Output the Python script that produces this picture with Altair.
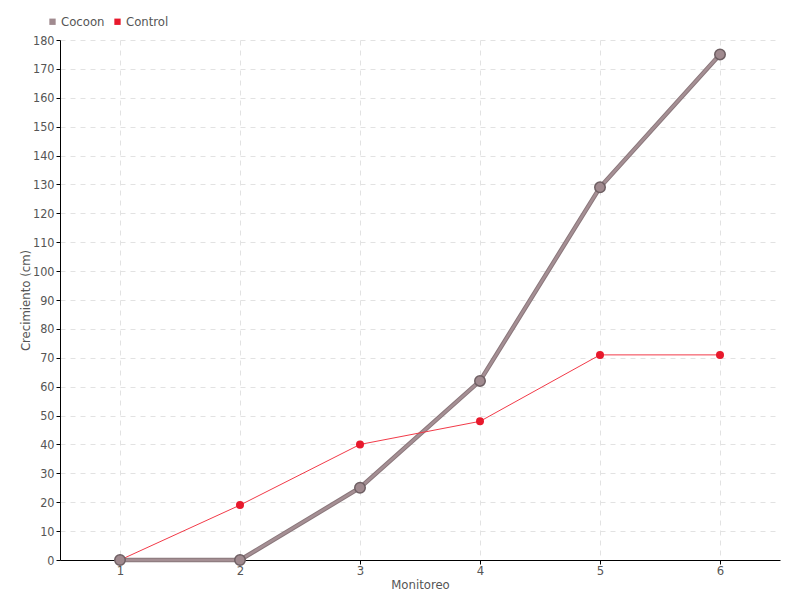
import altair as alt
import pandas as pd

monitoreo = [1, 2, 3, 4, 5, 6]
cocoon = [0, 0, 25, 62, 129, 175]
control = [0, 19, 40, 48, 71, 71]
series = ["Cocoon", "Control"]
colors = ["#a08a8f", "#e8192c"]

rows = []
for m, v in zip(monitoreo, cocoon):
    rows.append({"Monitoreo": m, "Crecimiento": v, "Serie": "Cocoon"})
for m, v in zip(monitoreo, control):
    rows.append({"Monitoreo": m, "Crecimiento": v, "Serie": "Control"})
df = pd.DataFrame(rows)

FONT = "DejaVu Sans Condensed, Roboto, sans-serif"
TXT = "#555555"

x = alt.X("Monitoreo:Q", scale=alt.Scale(domain=[0.5, 6.5], nice=False, zero=False),
          axis=alt.Axis(values=monitoreo, format="d", title="Monitoreo", grid=True,
                        gridDash=[5, 5], gridColor="#e2e2e2", domainColor="#000000",
                        tickColor="#000000", tickSize=4, labelPadding=0, titlePadding=1))
y = alt.Y("Crecimiento:Q", scale=alt.Scale(domain=[0, 180], nice=False),
          axis=alt.Axis(values=list(range(0, 181, 10)), title="Crecimiento (cm)",
                        gridDash=[5, 5], gridColor="#e2e2e2", domainColor="#000000",
                        tickColor="#000000", tickSize=4, titleX=-28, labelFontSize=12.5))
color = alt.Color("Serie:N", scale=alt.Scale(domain=series, range=colors),
                  legend=alt.Legend(title=None, orient="none", legendX=-14, legendY=-25,
                                    direction="horizontal", symbolType="square",
                                    symbolSize=40, labelFontSize=13, labelColor=TXT,
                                    labelFont=FONT, columnPadding=6, symbolOffset=0,
                                    labelOffset=2))

base = alt.Chart(df)
coc = base.transform_filter(alt.datum.Serie == "Cocoon")
con = base.transform_filter(alt.datum.Serie == "Control")

coc_outer = coc.mark_line(color="#8a777b", strokeWidth=4.5).encode(x=x, y=y)
coc_inner = coc.mark_line(color="#a58f94", strokeWidth=2.5).encode(x=x, y=y)
con_line = con.mark_line(color="#f23a48", strokeWidth=1).encode(x=x, y=y)
coc_pts = coc.mark_point(filled=True, size=110, stroke="#6e5f63", strokeWidth=1.5,
                         opacity=1).encode(x=x, y=y, color=color)
con_pts = con.mark_point(filled=True, size=64, opacity=1, shape="circle").encode(
    x=x, y=y, color=color)

chart = alt.layer(coc_outer, coc_inner, con_line, con_pts, coc_pts).properties(
    width=720, height=520,
    autosize=alt.AutoSizeParams(type="none"),
    padding={"left": 52, "top": 32, "right": 12, "bottom": 32},
).configure_axis(
    labelFont=FONT, titleFont=FONT, labelFontSize=13, titleFontSize=13,
    labelColor=TXT, titleColor=TXT, titleFontWeight="normal",
).configure_view(stroke=None)

chart.save("out.html", embed_options={"renderer": "svg", "actions": False})
